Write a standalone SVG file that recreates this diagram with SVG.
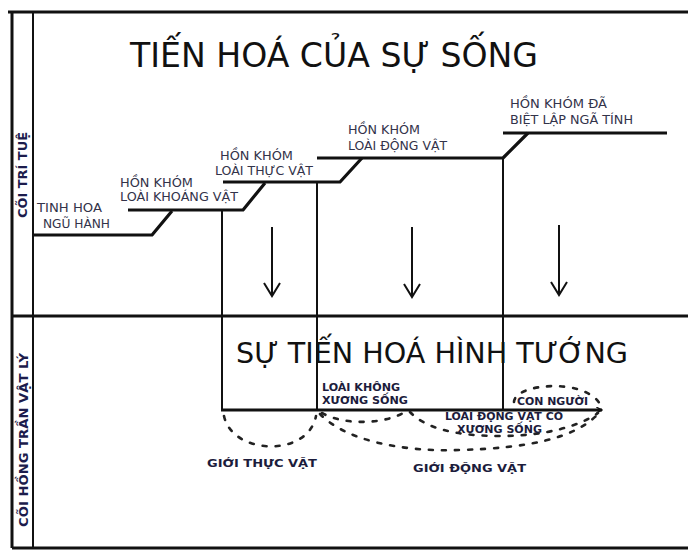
<svg xmlns="http://www.w3.org/2000/svg" width="688" height="552" viewBox="0 0 688 552">
<style>
.frame{stroke:#111;fill:none;stroke-width:3}
.thin{stroke:#111;fill:none;stroke-width:2}
.step{stroke:#111;fill:none;stroke-width:3.2;stroke-linejoin:round}
.dash{stroke:#222;fill:none;stroke-width:2.6;stroke-dasharray:4 9;stroke-linecap:round}
.title{font-family:"DejaVu Sans","Liberation Sans",sans-serif;fill:#111}
.lbl{font-family:"DejaVu Sans","Liberation Sans",sans-serif;font-size:11.5px;fill:#33334a}
.blbl{font-family:"DejaVu Sans","Liberation Sans",sans-serif;font-size:10.5px;font-weight:bold;fill:#1c1c3c}
.side{font-family:"DejaVu Sans","Liberation Sans",sans-serif;font-size:12px;font-weight:bold;fill:#1c1c4c}
</style>
<defs>
<marker id="ah" viewBox="0 0 10 10" refX="9" refY="5" markerWidth="7" markerHeight="7" orient="auto" markerUnits="userSpaceOnUse">
<path d="M1,1 L9,5 L1,9" fill="none" stroke="#111" stroke-width="2"/>
</marker>
</defs>
<rect width="688" height="552" fill="#fff"/>
<g id="frame">
<line class="frame" x1="8" y1="12" x2="688" y2="12"/>
<line class="frame" x1="12" y1="12" x2="12" y2="548"/>
<line class="thin" x1="33" y1="12" x2="33" y2="548"/>
<line class="frame" x1="12" y1="548" x2="688" y2="548"/>
<line class="frame" x1="12" y1="316" x2="688" y2="316"/>
</g>
<g id="sides">
<text class="side" transform="translate(27,175) rotate(-90)" text-anchor="middle" textLength="86" lengthAdjust="spacingAndGlyphs">CÕI TRÍ TUỆ</text>
<text class="side" transform="translate(28,440) rotate(-90)" text-anchor="middle" textLength="174" lengthAdjust="spacingAndGlyphs">CÕI HỒNG TRẦN VẬT LÝ</text>
</g>
<g id="titles">
<text class="title" x="130" y="67" font-size="33" textLength="408" lengthAdjust="spacingAndGlyphs">TIẾN HOÁ CỦA SỰ SỐNG</text>
<text class="title" x="236" y="363" font-size="29" textLength="392" lengthAdjust="spacingAndGlyphs">SỰ TIẾN HOÁ HÌNH TƯỚNG</text>
</g>
<g id="connectors">
<polyline class="step" points="33,235 152,235 172,211"/>
<polyline class="step" points="128,210 243,210 265,183"/>
<polyline class="step" points="223,182 340,182 362,158"/>
<polyline class="step" points="317,158 503,158 528,133"/>
<polyline class="step" points="503,133 667,133"/>
<line class="thin" x1="222" y1="210" x2="222" y2="411"/>
<line class="thin" x1="317" y1="182" x2="317" y2="411"/>
<line class="thin" x1="503" y1="158" x2="503" y2="411"/>
<line class="frame" x1="221" y1="410" x2="602" y2="410" marker-end="url(#ah)"/>
<g class="thin">
<line x1="272" y1="227" x2="272" y2="296"/><polyline points="264,283 272,296 280,283"/>
<line x1="412" y1="227" x2="412" y2="297"/><polyline points="404,284 412,297 420,284"/>
<line x1="559" y1="225" x2="559" y2="295"/><polyline points="551,282 559,295 567,282"/>
</g>
<path class="dash" d="M224,416 C232,455 308,458 316,416"/>
<path class="dash" d="M320,414 C345,440 400,452 460,450 C530,448 575,438 598,414"/>
<path class="dash" d="M322,413 C345,426 385,424 405,412"/>
<path class="dash" d="M410,412 C425,428 455,436 500,436 C545,436 580,426 598,413"/>
<path class="dash" d="M514,402 C515,383 585,378 600,404"/>
</g>
<g id="n1"><text class="lbl" x="37" y="212" textLength="65" lengthAdjust="spacingAndGlyphs">TINH HOA</text><text class="lbl" x="43" y="228" textLength="67" lengthAdjust="spacingAndGlyphs">NGŨ HÀNH</text></g>
<g id="n2"><text class="lbl" x="120" y="187" textLength="73" lengthAdjust="spacingAndGlyphs">HỒN KHÓM</text><text class="lbl" x="120" y="201" textLength="118" lengthAdjust="spacingAndGlyphs">LOÀI KHOÁNG VẬT</text></g>
<g id="n3"><text class="lbl" x="220" y="160" textLength="73" lengthAdjust="spacingAndGlyphs">HỒN KHÓM</text><text class="lbl" x="215" y="175" textLength="98" lengthAdjust="spacingAndGlyphs">LOÀI THỰC VẬT</text></g>
<g id="n4"><text class="lbl" x="348" y="134" textLength="72" lengthAdjust="spacingAndGlyphs">HỒN KHÓM</text><text class="lbl" x="348" y="150" textLength="99" lengthAdjust="spacingAndGlyphs">LOÀI ĐỘNG VẬT</text></g>
<g id="n5"><text class="lbl" x="510" y="108" textLength="97" lengthAdjust="spacingAndGlyphs">HỒN KHÓM ĐÃ</text><text class="lbl" x="510" y="124" textLength="123" lengthAdjust="spacingAndGlyphs">BIỆT LẬP NGÃ TÍNH</text></g>
<g id="n6"><text class="blbl" x="322" y="391" textLength="78" lengthAdjust="spacingAndGlyphs">LOÀI KHÔNG</text><text class="blbl" x="322" y="404" textLength="86" lengthAdjust="spacingAndGlyphs">XƯƠNG SỐNG</text></g>
<g id="n7"><text class="blbl" x="445" y="420" textLength="118" lengthAdjust="spacingAndGlyphs">LOÀI ĐỘNG VẬT CÓ</text><text class="blbl" x="457" y="433" textLength="85" lengthAdjust="spacingAndGlyphs">XƯƠNG SỐNG</text></g>
<g id="n8"><text class="blbl" x="517" y="405" textLength="71" lengthAdjust="spacingAndGlyphs">CON NGƯỜI</text></g>
<g id="n9"><text class="blbl" x="207" y="467" font-size="11.5" textLength="110" lengthAdjust="spacingAndGlyphs">GIỚI THỰC VẬT</text></g>
<g id="n10"><text class="blbl" x="413" y="472" font-size="11.5" textLength="113" lengthAdjust="spacingAndGlyphs">GIỚI ĐỘNG VẬT</text></g>
</svg>
